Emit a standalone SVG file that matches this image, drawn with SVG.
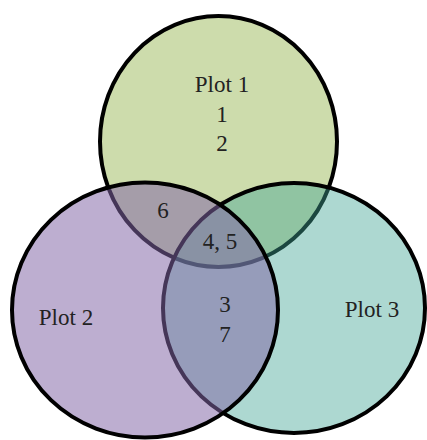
<svg xmlns="http://www.w3.org/2000/svg" width="427" height="440" viewBox="0 0 427 440">
<style>
.c{stroke:#000;stroke-width:4}
.t{font-family:"Liberation Serif","Times New Roman",serif;font-size:23px;fill:#222;text-anchor:middle}
</style>
<rect width="427" height="440" fill="#fff"/>
<g id="plot1">
<ellipse class="c" cx="218.5" cy="141.5" rx="118.5" ry="125.5" fill="#cddcac"/>
</g>
<g id="plot3">
<ellipse cx="294" cy="308" rx="131" ry="125" fill="#42a494" fill-opacity="0.43" stroke="#000" stroke-width="4"/>
</g>
<g id="plot2">
<ellipse cx="145" cy="310" rx="133" ry="127.5" fill="#8266a6" fill-opacity="0.53" stroke="#000" stroke-width="4"/>
</g>
<g id="labels">
<text class="t" x="222" y="92">Plot 1</text>
<text class="t" x="222" y="122">1</text>
<text class="t" x="222" y="151">2</text>
<text class="t" x="163" y="218">6</text>
<text class="t" x="220" y="249">4, 5</text>
<text class="t" x="225" y="312">3</text>
<text class="t" x="225" y="342">7</text>
<text class="t" x="66" y="325">Plot 2</text>
<text class="t" x="372" y="317">Plot 3</text>
</g>
</svg>
